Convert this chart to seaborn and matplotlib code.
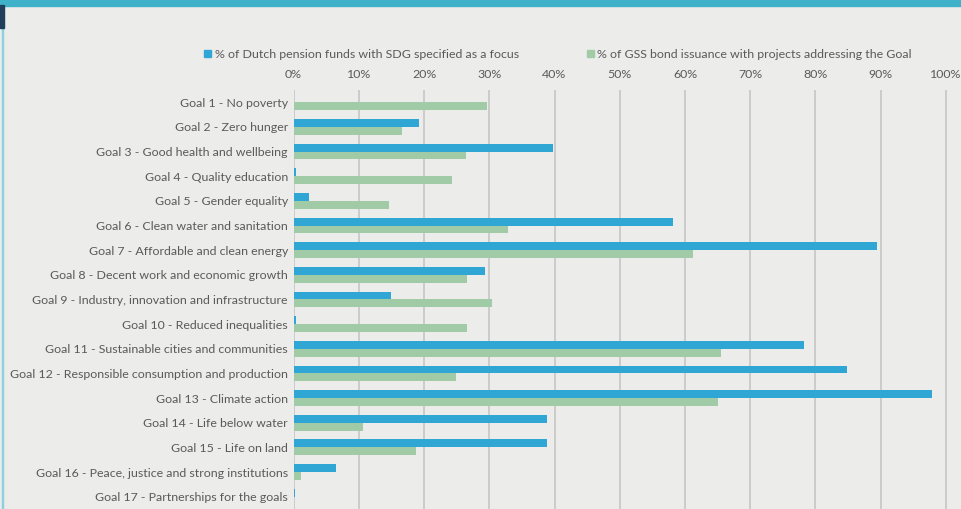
import pandas as pd
import matplotlib.pyplot as plt
import matplotlib.patches as mpatches
import seaborn as sns

# Datos (porcentajes)
goals = [
    'Goal 1 - No poverty',
    'Goal 2 - Zero hunger',
    'Goal 3 - Good health and wellbeing',
    'Goal 4 - Quality education',
    'Goal 5 - Gender equality',
    'Goal 6 - Clean water and sanitation',
    'Goal 7 - Affordable and clean energy',
    'Goal 8 - Decent work and economic growth',
    'Goal 9 - Industry, innovation and infrastructure',
    'Goal 10 - Reduced inequalities',
    'Goal 11 - Sustainable cities and communities',
    'Goal 12 - Responsible consumption and production',
    'Goal 13 - Climate action',
    'Goal 14 - Life below water',
    'Goal 15 - Life on land',
    'Goal 16 - Peace, justice and strong institutions',
    'Goal 17 - Partnerships for the goals',
]
pension_funds = [0, 19.2, 39.7, 0.4, 2.3, 58.1, 89.4, 29.3, 14.9, 0.4, 78.3, 84.9, 97.8, 38.8, 38.8, 6.5, 0.3]
gss_bonds = [29.6, 16.6, 26.4, 24.3, 14.6, 32.8, 61.3, 26.6, 30.4, 26.6, 65.5, 24.9, 65.0, 10.6, 18.8, 1.1, 0]

series_names = ['% of Dutch pension funds with SDG specified as a focus',
                '% of GSS bond issuance with projects addressing the Goal']
x_ticks = [0, 10, 20, 30, 40, 50, 60, 70, 80, 90, 100]

blue = '#2fa6d4'
green = '#a1cba7'
bg = '#ececeb'
text_color = '#5a5a5a'

df = pd.DataFrame({
    'Goal': goals * 2,
    'Value': pension_funds + gss_bonds,
    'Serie': [series_names[0]] * len(goals) + [series_names[1]] * len(goals),
})

plt.rcParams['font.family'] = ['Lato', 'DejaVu Sans']
fs = 8.9

fig = plt.figure(figsize=(9.62, 5.09), dpi=100)
fig.patch.set_facecolor(bg)
ax = fig.add_axes([0.3051, 0.0, 0.6803, 0.8232])
ax.set_facecolor(bg)

sns.barplot(data=df, x='Value', y='Goal', hue='Serie', orient='h',
            palette=[blue, green], width=0.64, edgecolor='none',
            saturation=1, legend=False, ax=ax)

ax.set_xlim(0, 100.3)
ax.set_ylim(len(goals) - 0.5, -0.5)
ax.set_xticks(x_ticks)
ax.set_xticklabels([f'{t}%' for t in x_ticks])
ax.xaxis.tick_top()
ax.tick_params(axis='x', length=0, pad=7, labelsize=fs, labelcolor=text_color)
ax.tick_params(axis='y', length=0, pad=4, labelsize=fs, labelcolor=text_color)
ax.set_xlabel('')
ax.set_ylabel('')
ax.grid(axis='x', color='#c9c9c9', linewidth=1.3)
ax.set_axisbelow(True)
for s in ax.spines.values():
    s.set_visible(False)

# Leyenda arriba
handles = [mpatches.Patch(color=blue, label=series_names[0]),
           mpatches.Patch(color=green, label=series_names[1])]
fig.legend(handles=handles, loc='center', bbox_to_anchor=(0.58, 0.893), ncol=2,
           frameon=False, fontsize=fs, labelcolor=text_color,
           handlelength=0.55, handleheight=0.55, handletextpad=0.3, columnspacing=5.5)

# Banda superior y borde izquierdo
fig.add_artist(mpatches.Rectangle((0, 0.988), 1, 0.012, transform=fig.transFigure,
                                  color='#3fb1c9', zorder=5))
fig.add_artist(mpatches.Rectangle((0.002, 0), 0.0015, 0.99, transform=fig.transFigure,
                                  color='#8fcfdf', zorder=5))
fig.add_artist(mpatches.Rectangle((0, 0.945), 0.004, 0.045, transform=fig.transFigure,
                                  color='#1f3f5a', zorder=6))

plt.savefig('out.png', dpi=100, facecolor=fig.get_facecolor())
